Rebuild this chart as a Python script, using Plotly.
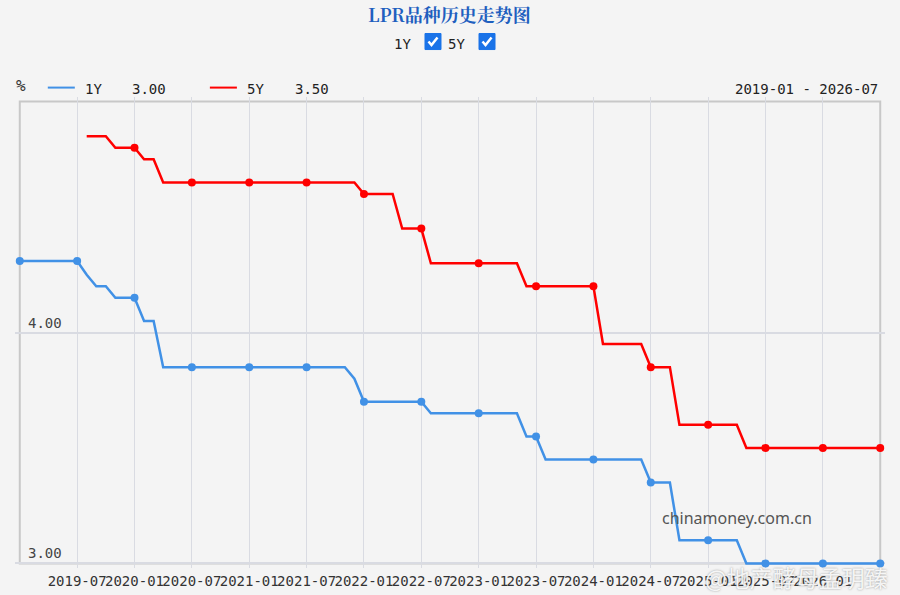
import plotly.graph_objects as go

months = [f"{y}-{m:02d}" for y in range(2019, 2027) for m in range(1, 13)]
months = months[:91]  # 2019-01 .. 2026-07

lpr_1y = [
    4.31, 4.31, 4.31, 4.31, 4.31, 4.31, 4.31, 4.25, 4.20, 4.20, 4.15, 4.15,  # 2019
    4.15, 4.05, 4.05, 3.85, 3.85, 3.85, 3.85, 3.85, 3.85, 3.85, 3.85, 3.85,  # 2020
    3.85, 3.85, 3.85, 3.85, 3.85, 3.85, 3.85, 3.85, 3.85, 3.85, 3.85, 3.80,  # 2021
    3.70, 3.70, 3.70, 3.70, 3.70, 3.70, 3.70, 3.65, 3.65, 3.65, 3.65, 3.65,  # 2022
    3.65, 3.65, 3.65, 3.65, 3.65, 3.55, 3.55, 3.45, 3.45, 3.45, 3.45, 3.45,  # 2023
    3.45, 3.45, 3.45, 3.45, 3.45, 3.45, 3.35, 3.35, 3.35, 3.10, 3.10, 3.10,  # 2024
    3.10, 3.10, 3.10, 3.10, 3.00, 3.00, 3.00, 3.00, 3.00, 3.00, 3.00, 3.00,  # 2025
    3.00, 3.00, 3.00, 3.00, 3.00, 3.00, 3.00,                                # 2026
]
lpr_5y = [
    None, None, None, None, None, None, None, 4.85, 4.85, 4.85, 4.80, 4.80,  # 2019
    4.80, 4.75, 4.75, 4.65, 4.65, 4.65, 4.65, 4.65, 4.65, 4.65, 4.65, 4.65,  # 2020
    4.65, 4.65, 4.65, 4.65, 4.65, 4.65, 4.65, 4.65, 4.65, 4.65, 4.65, 4.65,  # 2021
    4.60, 4.60, 4.60, 4.60, 4.45, 4.45, 4.45, 4.30, 4.30, 4.30, 4.30, 4.30,  # 2022
    4.30, 4.30, 4.30, 4.30, 4.30, 4.20, 4.20, 4.20, 4.20, 4.20, 4.20, 4.20,  # 2023
    4.20, 3.95, 3.95, 3.95, 3.95, 3.95, 3.85, 3.85, 3.85, 3.60, 3.60, 3.60,  # 2024
    3.60, 3.60, 3.60, 3.60, 3.50, 3.50, 3.50, 3.50, 3.50, 3.50, 3.50, 3.50,  # 2025
    3.50, 3.50, 3.50, 3.50, 3.50, 3.50, 3.50,                                # 2026
]
tick_labels = ["2019-07", "2020-01", "2020-07", "2021-01", "2021-07", "2022-01",
               "2022-07", "2023-01", "2023-07", "2024-01", "2024-07", "2025-01",
               "2025-07", "2026-01"]
y_ticks = [3.00, 4.00]

BLUE = "#4191e6"
RED = "#ff0000"
MONO = "DejaVu Sans Mono, Liberation Mono, monospace"

n = len(months)
FX0, FX1, FY0, FY1 = 20, 880, 102, 563
XPAD, YPAD = 0.5, 0.02
W, H = 900, 595
ppx = (FX1 - FX0) / (n - 1)
ppy = (FY1 - FY0) / 2.0
L = FX0 - XPAD * ppx
R = W - (FX1 + XPAD * ppx)
T = FY0 - YPAD * ppy
B = H - (FY1 + YPAD * ppy)

fig = go.Figure()
fig.add_trace(go.Scatter(x=months, y=lpr_1y, mode="lines",
                         line=dict(color=BLUE, width=2.5), name="1Y"))
fig.add_trace(go.Scatter(x=months, y=lpr_5y, mode="lines",
                         line=dict(color=RED, width=2.5), name="5Y",
                         connectgaps=False))
sel = [i for i, m in enumerate(months) if m[-2:] in ("01", "07")]
fig.add_trace(go.Scatter(x=[months[i] for i in sel], y=[lpr_1y[i] for i in sel],
                         mode="markers", marker=dict(color=BLUE, size=8),
                         showlegend=False))
sel5 = [i for i in sel if lpr_5y[i] is not None]
fig.add_trace(go.Scatter(x=[months[i] for i in sel5], y=[lpr_5y[i] for i in sel5],
                         mode="markers", marker=dict(color=RED, size=8),
                         showlegend=False))

pw, ph = W - L - R, H - T - B


def px(x):
    return (x - L) / pw


def py(y):
    return (H - B - y) / ph


fig.update_layout(
    width=W, height=H, showlegend=False,
    margin=dict(l=L, r=R, t=T, b=B, pad=0, autoexpand=False),
    paper_bgcolor="#f4f4f4", plot_bgcolor="#f4f4f4",
    xaxis=dict(type="category", range=[-XPAD, n - 1 + XPAD], automargin=False,
               tickmode="array", tickvals=tick_labels, ticktext=tick_labels,
               tickangle=0, showgrid=True, gridcolor="#d9dbe2", gridwidth=1,
               showline=False, zeroline=False, ticks="", ticklabelstandoff=3,
               tickfont=dict(family=MONO, size=14, color="#333333")),
    yaxis=dict(range=[3 - YPAD, 5 + YPAD], tickmode="array", tickvals=y_ticks,
               automargin=False,
               ticktext=[f"{v:.2f}" for v in y_ticks],
               ticklabelposition="inside top", ticklabelstandoff=10, showgrid=True,
               gridcolor="#d9dbe2", gridwidth=2, zeroline=False, showline=False,
               ticks="", tickfont=dict(family=MONO, size=14, color="#444444")),
)

shapes = [
    dict(type="rect", xref="x", yref="y", x0=0, x1=n - 1, y0=3, y1=5,
         line=dict(color="#c8c8c8", width=2), layer="below"),
    dict(type="line", xref="paper", yref="paper", x0=px(48), x1=px(75),
         y0=py(88), y1=py(88), line=dict(color=BLUE, width=2)),
    dict(type="line", xref="paper", yref="paper", x0=px(210), x1=px(237),
         y0=py(88), y1=py(88), line=dict(color=RED, width=2)),
]
for cx in (425, 479):
    shapes.append(dict(type="rect", xref="paper", yref="paper",
                       x0=px(cx), x1=px(cx + 16), y0=py(50), y1=py(34),
                       fillcolor="#1a73e8", line=dict(color="#1a73e8", width=1)))
    x0, x1, x2 = px(cx + 3.5), px(cx + 6.5), px(cx + 12.5)
    shapes.append(dict(type="path", xref="paper", yref="paper",
                       path=f"M {x0} {py(42)} L {x1} {py(45.5)} L {x2} {py(38)}",
                       line=dict(color="white", width=2.5)))

ann = [
    dict(text="<b>LPR品种历史走势图</b>", x=px(450), y=py(15), xanchor="center",
         font=dict(family="Noto Serif CJK SC, Noto Sans CJK SC", size=18, color="#1f5fbf")),
    dict(text="1Y", x=px(413), y=py(44), xanchor="right"),
    dict(text="5Y", x=px(467), y=py(44), xanchor="right"),
    dict(text="%", x=px(14), y=py(86), xanchor="left",
         font=dict(family=MONO, size=16, color="#333333")),
    dict(text="1Y", x=px(83), y=py(89), xanchor="left"),
    dict(text=f"{lpr_1y[-1]:.2f}", x=px(130), y=py(89), xanchor="left"),
    dict(text="5Y", x=px(245), y=py(89), xanchor="left"),
    dict(text=f"{lpr_5y[-1]:.2f}", x=px(293), y=py(89), xanchor="left"),
    dict(text=f"{months[0]} - {months[-1]}", x=px(880), y=py(89), xanchor="right"),
]
annotations = []
for a in ann:
    base = dict(xref="paper", yref="paper", showarrow=False, yanchor="middle",
                font=dict(family=MONO, size=14, color="#222222"))
    base.update(a)
    annotations.append(base)

annotations.append(dict(text="chinamoney.com.cn", x=px(737), y=py(518), xref="paper",
                        yref="paper", showarrow=False, xanchor="center", yanchor="middle",
                        font=dict(family="Noto Sans, Open Sans", size=16, color="#555555")))
annotations.append(dict(text="@地产酵母孟玥臻", x=px(890), y=py(577), xref="paper",
                        yref="paper", showarrow=False, xanchor="right", yanchor="middle",
                        font=dict(family="Noto Sans CJK SC", size=23,
                                  color="rgba(255,255,255,0.9)",
                                  shadow="0px 0px 2px #888")))

fig.update_layout(shapes=shapes, annotations=annotations)
fig.write_html("out.html")
